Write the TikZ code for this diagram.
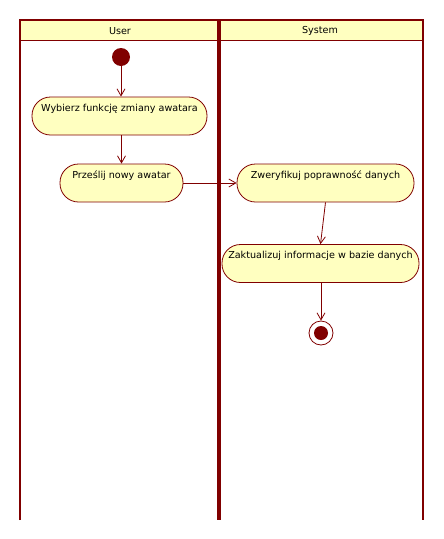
\documentclass[tikz,border=0pt]{standalone}
\usepackage{fontspec}
\setmainfont{DejaVu Sans}
\usetikzlibrary{arrows.meta}
\definecolor{lane}{RGB}{128,0,0}
\definecolor{cream}{RGB}{255,255,192}

\begin{document}
\begin{tikzpicture}[x=1pt,y=-1pt,font=\fontsize{9.6}{11}\selectfont,
    action/.style={draw=lane,line width=0.8pt,fill=cream,rectangle,rounded corners=18.5pt,
      inner xsep=0pt,inner ysep=4pt,text height=10pt,text depth=20pt,minimum height=38pt},
    flow/.style={lane,line width=0.8pt,-{Straight Barb[length=7pt,width=8pt]}}]
    \useasboundingbox (0,0) rectangle (444,539);

    % swimlanes
    \fill[cream] (20,20) rectangle (423,40);
    \draw[lane,line width=1pt] (20,40) -- (423,40);
    \draw[lane,line width=1.6pt] (20,520) -- (20,20) -- (423,20) -- (423,520);
    \draw[lane,line width=3.6pt] (219,19) -- (219,520);
    \node (user) at (120,31) {User};
    \node (system) at (320,31) {System};

    \node[circle,fill=lane,minimum size=18pt,inner sep=0pt] (start) at (121,57) {};
    \node[action,minimum width=175pt] (wybierz) at (119.5,116) {Wybierz funkcję zmiany awatara};
    \node[action,minimum width=123pt] (przeslij) at (121.5,183) {Prześlij nowy awatar};
    \node[action,minimum width=177pt] (zweryfikuj) at (325.5,183) {Zweryfikuj poprawność danych};
    \node[action,minimum width=197pt] (zaktualizuj) at (320.5,263.5) {Zaktualizuj informacje w bazie danych};
    \node[circle,draw=lane,line width=0.8pt,fill=white,minimum size=24pt,inner sep=0pt] (stop) at (321,333) {};
    \fill[lane] (stop) circle (7);

    \draw[flow] (start) -- (start |- wybierz.north);
    \draw[flow] (wybierz.south -| przeslij) -- (przeslij.north);
    \draw[flow] (przeslij) -- (zweryfikuj);
    \draw[flow] (zweryfikuj.south) -- (zaktualizuj.north);
    \draw[flow] (zaktualizuj.south -| stop) -- (stop);
\end{tikzpicture}
\end{document}
